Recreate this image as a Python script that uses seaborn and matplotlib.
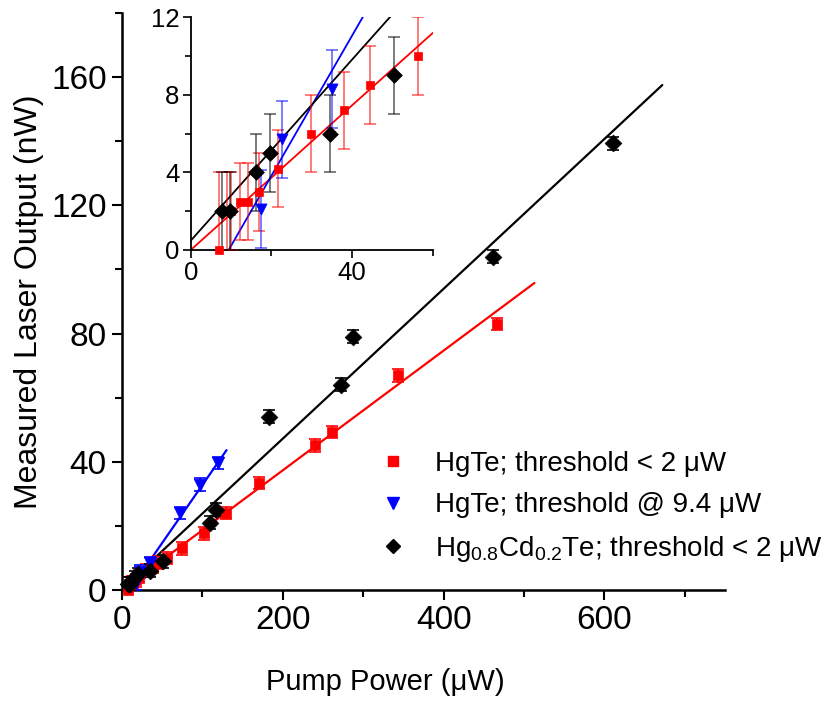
import numpy as np
import pandas as pd
import matplotlib
matplotlib.use("Agg")
import matplotlib.pyplot as plt
from matplotlib.lines import Line2D
import seaborn as sns

# ---- data ----
red_x = [7.1, 9.0, 10.0, 12.2, 14.3, 17.0, 21.7, 29.9, 38.0, 44.4, 56.4, 75, 102, 129, 170, 240, 261, 343, 467]
red_y = [0, 2, 2, 2.5, 2.5, 3, 4.2, 6, 7.2, 8.5, 10, 13, 17.7, 24, 33.4, 45.2, 49.3, 67, 83]
red_err = [4, 2, 2, 2, 2, 2, 2, 2, 2, 2, 2, 2, 2, 2, 2, 2, 2, 2, 2]

blue_x = [17.4, 22.5, 35.0, 72, 97, 120]
blue_y = [2.1, 5.7, 8.3, 24, 32.8, 39.6]
blue_err = [2, 2, 2, 2, 2, 2]

black_x = [7.7, 9.7, 16.2, 19.6, 34.5, 50.4, 109, 117, 183, 273, 287, 461, 611]
black_y = [2, 2, 4, 5, 6, 9, 21, 25, 54, 64, 79, 104, 139.4]
black_err = [2, 2, 2, 2, 2, 2, 2, 2, 2, 2, 2, 2, 2]

# linear fits: slope, intercept, x-range of drawn fit
red_fit = (0.1867, 0.0, 0.0, 513.0)
blue_fit = (0.3617, -3.40, 9.4, 130.0)
black_fit = (0.2337, 0.48, 0.0, 672.0)

labels = ["HgTe; threshold < 2 \u03bcW",
          "HgTe; threshold @ 9.4 \u03bcW",
          "Hg$_{0.8}$Cd$_{0.2}$Te; threshold < 2 \u03bcW"]

sns.set_theme(style="ticks")
plt.rcParams['font.family'] = ['Liberation Sans', 'DejaVu Sans']
plt.rcParams['mathtext.fontset'] = 'custom'
plt.rcParams['mathtext.rm'] = 'Liberation Sans'
plt.rcParams['mathtext.it'] = 'Liberation Sans'
for k in ['text.color', 'axes.labelcolor', 'xtick.color', 'ytick.color', 'axes.edgecolor']:
    plt.rcParams[k] = 'black'

fig = plt.figure(figsize=(8.32, 7.01), dpi=100)
ax = fig.add_axes([122/832, 111/701, 603/832, 577/701])
ins = fig.add_axes([190.7/832, 451/701, 242.3/832, 232.7/701])

series = [
    (red_x, red_y, red_err, red_fit, "#ff0000", "s", 7, 6),
    (blue_x, blue_y, blue_err, blue_fit, "#0000ff", "v", 9, 8),
    (black_x, black_y, black_err, black_fit, "#000000", "D", 8.5, 8),
]


def draw(a, xmax, lw, ms_scale, err_alpha, clip_fit):
    for xs, ys, es, fit, col, mk, ms, msi in series:
        df = pd.DataFrame({"x": xs, "y": ys, "e": es})
        df = df[df.x <= xmax]
        slope, icpt, x0, x1 = fit
        if clip_fit:
            x1 = xmax
        fx = np.array([x0, x1])
        sns.lineplot(x=fx, y=slope * fx + icpt, ax=a, color=col, lw=lw, zorder=2)
        a.errorbar(df.x, df.y, yerr=df.e, fmt="none", ecolor=col, elinewidth=1.2,
                   capsize=3.5 * ms_scale + 1, capthick=1.2, alpha=err_alpha, zorder=3)
        sns.scatterplot(data=df, x="x", y="y", ax=a, marker=mk, color=col,
                        s=(ms if ms_scale == 1 else msi) ** 2, edgecolor=col,
                        linewidth=0.5, zorder=4, legend=False, clip_on=False)


draw(ax, 1000, 1.6, 1, 1.0, False)
draw(ins, 60, 1.3, 0.9, 0.6, True)

# main axes formatting
ax.set_xlim(0, 750)
ax.set_ylim(0, 180)
ax.set_xticks([0, 200, 400, 600])
ax.set_xticks([100, 300, 500, 700], minor=True)
ax.set_yticks([0, 40, 80, 120, 160])
ax.set_yticks([20, 60, 100, 140, 180], minor=True)
ax.tick_params(axis="both", which="major", direction="out", length=7, width=1.5,
               labelsize=24, pad=4, color="black", labelcolor="black")
ax.tick_params(axis="both", which="minor", direction="out", length=5, width=1.5, color="black")
for s in ["top", "right"]:
    ax.spines[s].set_visible(False)
for s in ["left", "bottom"]:
    ax.spines[s].set_linewidth(1.8)
    ax.spines[s].set_color("black")
ax.set_xlabel("Pump Power (\u03bcW)", fontsize=21, labelpad=24)
ax.xaxis.set_label_coords(0.436, -0.135)
ax.xaxis.label.set_va("top")
ax.set_ylabel("Measured Laser Output (nW)", fontsize=23, labelpad=5)

# inset formatting
ins.set_xlim(0, 60)
ins.set_ylim(0, 12)
ins.set_xticks([0, 40])
ins.set_xticks([20, 60], minor=True)
ins.set_yticks([0, 4, 8, 12])
ins.set_yticks([2, 6, 10], minor=True)
ins.tick_params(axis="both", which="major", direction="out", length=6, width=1.2,
                labelsize=18.5, pad=2, color="black", labelcolor="black")
ins.tick_params(axis="both", which="minor", direction="out", length=4, width=1.2, color="black")
for s in ["top", "right"]:
    ins.spines[s].set_visible(False)
for s in ["left", "bottom"]:
    ins.spines[s].set_linewidth(1.3)
    ins.spines[s].set_color("black")
ins.set_xlabel("")
ins.set_ylabel("")
ins.patch.set_alpha(0)

# legend
handles = [
    Line2D([], [], ls="none", marker="s", color="#ff0000", markersize=7),
    Line2D([], [], ls="none", marker="v", color="#0000ff", markersize=8),
    Line2D([], [], ls="none", marker="D", color="#000000", markersize=7),
]
fig.legend(handles, labels, loc="upper left", bbox_to_anchor=(379 / 832, 1 - 451 / 701),
           frameon=False, fontsize=20, handlelength=1.0, handletextpad=1.0,
           labelspacing=0.55, borderpad=0, borderaxespad=0)

fig.savefig("out.png", dpi=100)
